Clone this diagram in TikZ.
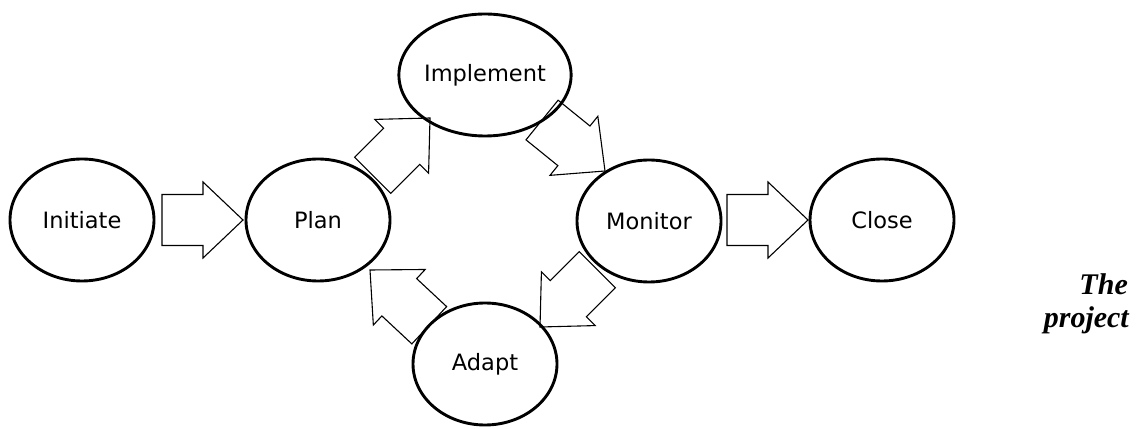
\documentclass[tikz,border=0pt]{standalone}
\usepackage{fontspec}
\setmainfont{DejaVu Sans}
\newfontfamily\titlefont{Liberation Serif}
\usetikzlibrary{shapes.geometric}
\tikzset{
  phase/.style={ellipse, draw, line width=2.9pt, minimum width=144pt, minimum height=122pt, inner sep=0pt,
    font=\fontsize{22.5}{27}\selectfont},
  blockarrow/.pic={\draw[line width=1.1pt, line join=miter]
     (0,0) -- (-40,38) -- (-40,25.5) -- (-81,25.5) -- (-81,-25.5) -- (-40,-25.5) -- (-40,-38) -- cycle;},
  caption/.style={anchor=base east, inner sep=0pt, font=\titlefont\bfseries\itshape\fontsize{30}{33}\selectfont}
}
\begin{document}
\begin{tikzpicture}[x=1pt,y=1pt]
\useasboundingbox (0,0) rectangle (1142,428);
\node[phase] (initiate) at (82,208) {Initiate};
\node[phase] (plan) at (318,208) {Plan};
\node[phase] (implement) at (485,353) {Implement};
\node[phase] (monitor) at (649,207) {Monitor};
\node[phase] (close) at (882,208) {Close};
\node[phase] (adapt) at (485,64) {Adapt};
\pic (a1) at (243,208) {blockarrow};
\pic[rotate=45] (a2) at (430,310) {blockarrow};
\pic[rotate=-39] (a3) at (605,257) {blockarrow};
\pic (a4) at (808,208) {blockarrow};
\pic[rotate=-135] (a5) at (540,101) {blockarrow};
\pic[rotate=137] (a6) at (370,158) {blockarrow};
\node[caption] (cap1) at (1128,133) {The};
\node[caption] (cap2) at (1129,100) {project};
\end{tikzpicture}
\end{document}
